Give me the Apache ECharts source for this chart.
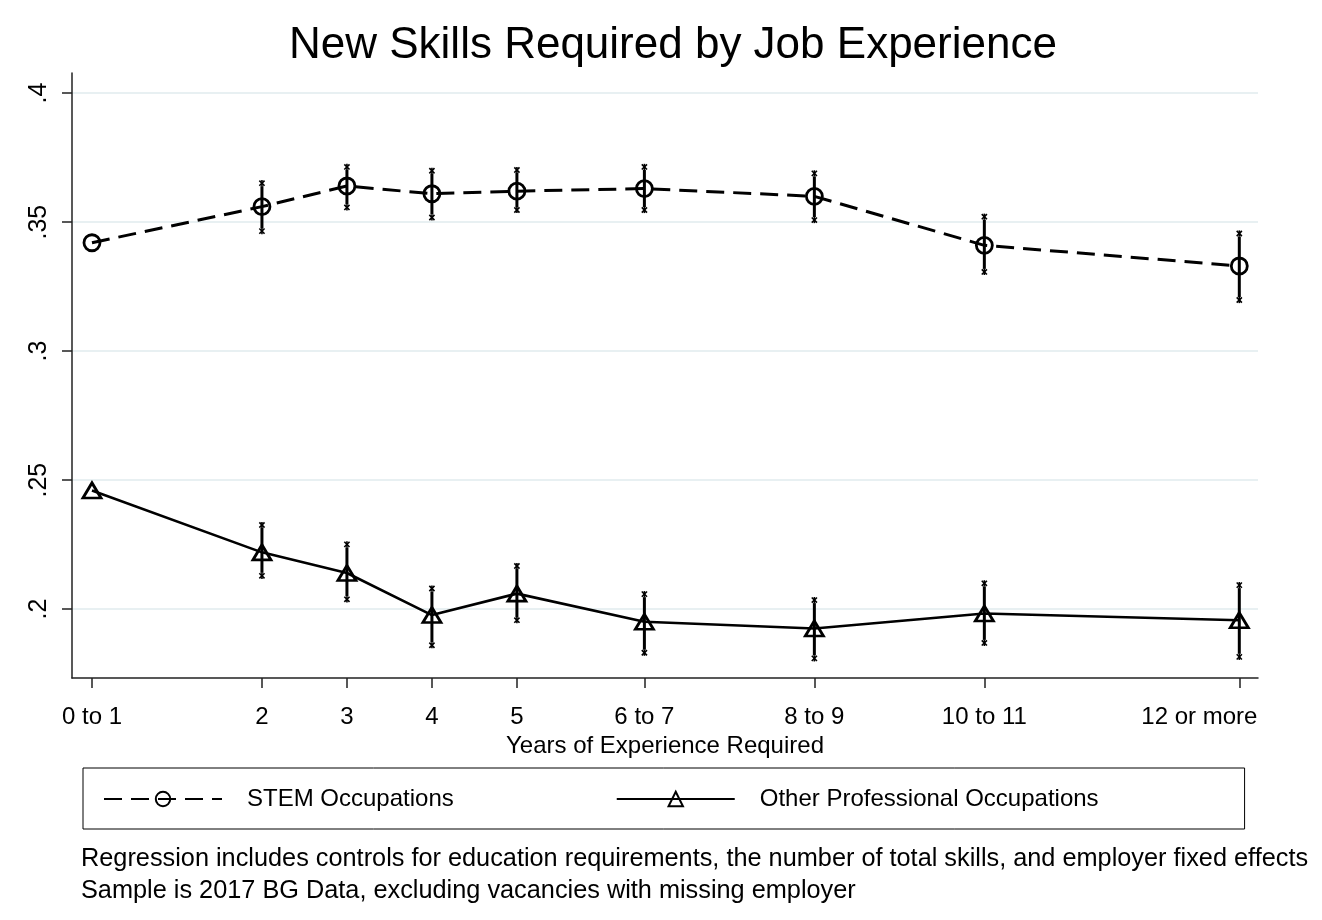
<!DOCTYPE html>
<html>
<head>
<meta charset="utf-8">
<script src="https://cdn.jsdelivr.net/npm/echarts@6/dist/echarts.min.js"></script>
<style>
html,body{margin:0;padding:0;background:#fff;}
#chart{width:1322px;height:920px;}
</style>
</head>
<body>
<div id="chart"></div>
<script>
// ---- data ----
var xPositions = [0, 2, 3, 4, 5, 6.5, 8.5, 10.5, 13.5];
var xLabels = ['0 to 1', '2', '3', '4', '5', '6 to 7', '8 to 9', '10 to 11', '12 or more'];
var yTicks = [0.2, 0.25, 0.3, 0.35, 0.4];
var yTickLabels = ['.2', '.25', '.3', '.35', '.4'];

var stemMean = [0.342, 0.356, 0.364, 0.361, 0.362, 0.363, 0.360, 0.341, 0.333];
var stemLow  = [null, 0.3465, 0.3557, 0.3518, 0.3547, 0.3547, 0.3508, 0.3307, 0.3198];
var stemHigh = [null, 0.3651, 0.3714, 0.3699, 0.3702, 0.3714, 0.3689, 0.3521, 0.3456];

var otherMean = [0.246, 0.222, 0.214, 0.1977, 0.206, 0.1951, 0.1925, 0.1983, 0.1957];
var otherLow  = [null, 0.2129, 0.2038, 0.1860, 0.1957, 0.1831, 0.1809, 0.1869, 0.1815];
var otherHigh = [null, 0.2326, 0.2251, 0.2080, 0.2167, 0.2058, 0.2035, 0.2100, 0.2093];

var seriesNames = ['STEM Occupations', 'Other Professional Occupations'];
var titleText = 'New Skills Required by Job Experience';
var xAxisTitle = 'Years of Experience Required';
var noteLines = [
  'Regression includes controls for education requirements, the number of total skills, and employer fixed effects',
  'Sample is 2017 BG Data, excluding vacancies with missing employer'
];

// ---- build ----
var FONT = '"Liberation Sans", Arial, Helvetica, sans-serif';

function pairs(xs, ys) {
  return xs.map(function (x, i) { return [x, ys[i]]; });
}
function ciData(xs, lo, hi) {
  var out = [];
  xs.forEach(function (x, i) {
    if (lo[i] != null && hi[i] != null) out.push([x, lo[i], hi[i]]);
  });
  return out;
}
function capShape(p) {
  var s = 2.6;
  return [
    { type: 'line', shape: { x1: p[0] - s, y1: p[1] - s, x2: p[0] + s, y2: p[1] + s }, style: { stroke: '#000', lineWidth: 1.6 } },
    { type: 'line', shape: { x1: p[0] - s, y1: p[1] + s, x2: p[0] + s, y2: p[1] - s }, style: { stroke: '#000', lineWidth: 1.6 } },
    { type: 'line', shape: { x1: p[0], y1: p[1] - s - 0.5, x2: p[0], y2: p[1] + s + 0.5 }, style: { stroke: '#000', lineWidth: 1.6 } }
  ];
}
function errRender(params, api) {
  var x = api.value(0);
  var lo = api.coord([x, api.value(1)]);
  var hi = api.coord([x, api.value(2)]);
  var children = [
    { type: 'line', shape: { x1: lo[0], y1: lo[1] - 3, x2: hi[0], y2: hi[1] + 3 }, style: { stroke: '#000', lineWidth: 3 } }
  ];
  children = children.concat(capShape(lo), capShape(hi));
  return { type: 'group', children: children };
}

var chart = echarts.init(document.getElementById('chart'), null, { renderer: 'canvas' });
var option = {
  backgroundColor: '#ffffff',
  animation: false,
  title: {
    text: titleText,
    left: 284,
    top: 19,
    textStyle: { fontFamily: FONT, fontSize: 44, fontWeight: 'normal', color: '#000' }
  },
  legend: {
    data: seriesNames,
    left: 83,
    top: 768,
    orient: 'horizontal',
    itemWidth: 118,
    itemHeight: 18,
    itemGap: 162,
    padding: [19, 146, 18, 20],
    borderColor: '#000',
    borderWidth: 1,
    textStyle: { fontFamily: FONT, fontSize: 24, color: '#000', padding: [0, 0, 0, 20] }
  },
  grid: { left: 72, right: 64, top: 73, bottom: 242, containLabel: false },
  xAxis: {
    type: 'value',
    min: -0.235,
    max: 13.72,
    name: xAxisTitle,
    nameLocation: 'middle',
    nameGap: 56,
    nameTextStyle: { fontFamily: FONT, fontSize: 24, color: '#000' },
    axisLine: { show: true, onZero: false, lineStyle: { color: '#222', width: 1.5 } },
    axisTick: { show: true, length: 10, lineStyle: { color: '#222', width: 1.5 }, customValues: xPositions },
    axisLabel: {
      fontFamily: FONT, fontSize: 24, color: '#000', margin: 27,
      customValues: xPositions,
      formatter: function (v) {
        var i = xPositions.indexOf(v);
        if (i < 0) return '';
        if (i === xPositions.length - 1) return '{last|' + xLabels[i] + '}';
        return xLabels[i];
      },
      rich: { last: { fontFamily: FONT, fontSize: 24, color: '#000', padding: [0, 80, 0, 0] } }
    },
    splitLine: { show: false }
  },
  yAxis: {
    type: 'value',
    min: 0.1733,
    max: 0.4078,
    axisLine: { show: true, onZero: false, lineStyle: { color: '#222', width: 1.5 } },
    axisTick: { show: true, length: 10, lineStyle: { color: '#222', width: 1.5 }, customValues: yTicks },
    axisLabel: {
      fontFamily: FONT, fontSize: 25, color: '#000', margin: 20, rotate: 90,
      customValues: yTicks,
      formatter: function (v) {
        for (var i = 0; i < yTicks.length; i++) {
          if (Math.abs(yTicks[i] - v) < 1e-9) return yTickLabels[i];
        }
        return '';
      }
    },
    splitLine: { show: true, lineStyle: { color: '#e8f0f2', width: 2 } }
  },
  graphic: [
    { type: 'text', left: 81, top: 847, style: { text: noteLines[0], font: '25.3px ' + FONT, fill: '#000' } },
    { type: 'text', left: 81, top: 879, style: { text: noteLines[1], font: '25.3px ' + FONT, fill: '#000' } }
  ],
  series: [
    {
      name: 'stemCI', type: 'custom', renderItem: errRender, data: ciData(xPositions, stemLow, stemHigh),
      encode: { x: 0, y: [1, 2] }, z: 2, silent: true
    },
    {
      name: 'otherCI', type: 'custom', renderItem: errRender, data: ciData(xPositions, otherLow, otherHigh),
      encode: { x: 0, y: [1, 2] }, z: 2, silent: true
    },
    {
      name: seriesNames[0], type: 'line', data: pairs(xPositions, stemMean), z: 3,
      symbol: 'circle', symbolSize: 16, showAllSymbol: true,
      lineStyle: { color: '#000', width: 3, type: [18, 9] },
      itemStyle: { color: 'rgba(255,255,255,0)', borderColor: '#000', borderWidth: 2.8 }
    },
    {
      name: seriesNames[1], type: 'line', data: pairs(xPositions, otherMean), z: 3,
      symbol: 'triangle', symbolSize: [18, 15], showAllSymbol: true,
      lineStyle: { color: '#000', width: 2.6, type: 'solid' },
      itemStyle: { color: 'rgba(255,255,255,0)', borderColor: '#000', borderWidth: 2.8 }
    }
  ]
};
chart.setOption(option);
</script>
</body>
</html>
